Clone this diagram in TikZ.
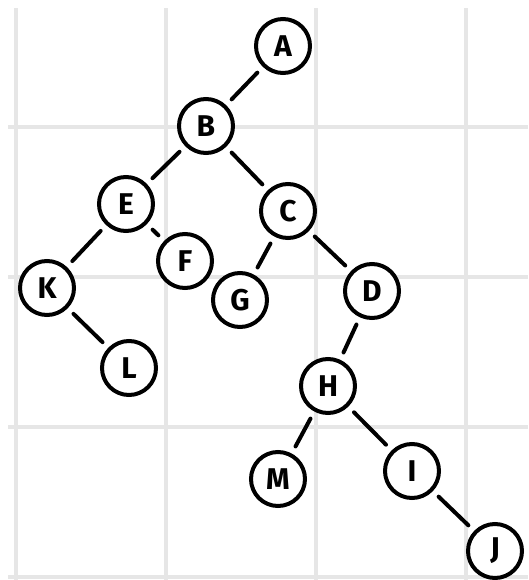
\documentclass[tikz,border=0pt]{standalone}
\usepackage{fontspec}
\setmainfont{Fira Sans}
\usepackage{tikz}

\definecolor{gridgray}{HTML}{E6E6E6}

\begin{document}
\begin{tikzpicture}[x=1pt,y=-1pt,
  vtx/.style={circle,draw,fill=white,line width=4pt,minimum size=54pt,inner sep=0pt,
    font=\fontsize{30}{30}\selectfont\bfseries},
  edge/.style={line width=4pt,line cap=round,shorten >=8pt,shorten <=8pt}]
\useasboundingbox (0,0) rectangle (528,580);
% grid
\foreach \gx in {16,166,316,466}
  \draw[gridgray,line width=4pt] (\gx,8)--(\gx,580);
\foreach \gy in {127,277,427,577}
  \draw[gridgray,line width=4pt] (8,\gy)--(528,\gy);
% vertices
\node[vtx] (a) at (283,46) {A};
\node[vtx] (b) at (206,126) {B};
\node[vtx] (e) at (126,204) {E};
\node[vtx] (c) at (288,211) {C};
\node[vtx] (f) at (185,261) {F};
\node[vtx] (k) at (47,288) {K};
\node[vtx] (g) at (240,300) {G};
\node[vtx] (d) at (372,291) {D};
\node[vtx] (l) at (129,368) {L};
\node[vtx] (h) at (328,386) {H};
\node[vtx] (m) at (278,479) {M};
\node[vtx] (i) at (412,471) {I};
\node[vtx] (j) at (495,551) {J};
% edges
\draw[edge] (a)--(b);
\draw[edge] (b)--(e);
\draw[edge] (b)--(c);
\draw[edge] (e)--(k);
\draw[edge] (e)--(f);
\draw[edge] (k)--(l);
\draw[edge] (c)--(g);
\draw[edge] (c)--(d);
\draw[edge] (d)--(h);
\draw[edge] (h)--(m);
\draw[edge] (h)--(i);
\draw[edge] (i)--(j);
\end{tikzpicture}
\end{document}
